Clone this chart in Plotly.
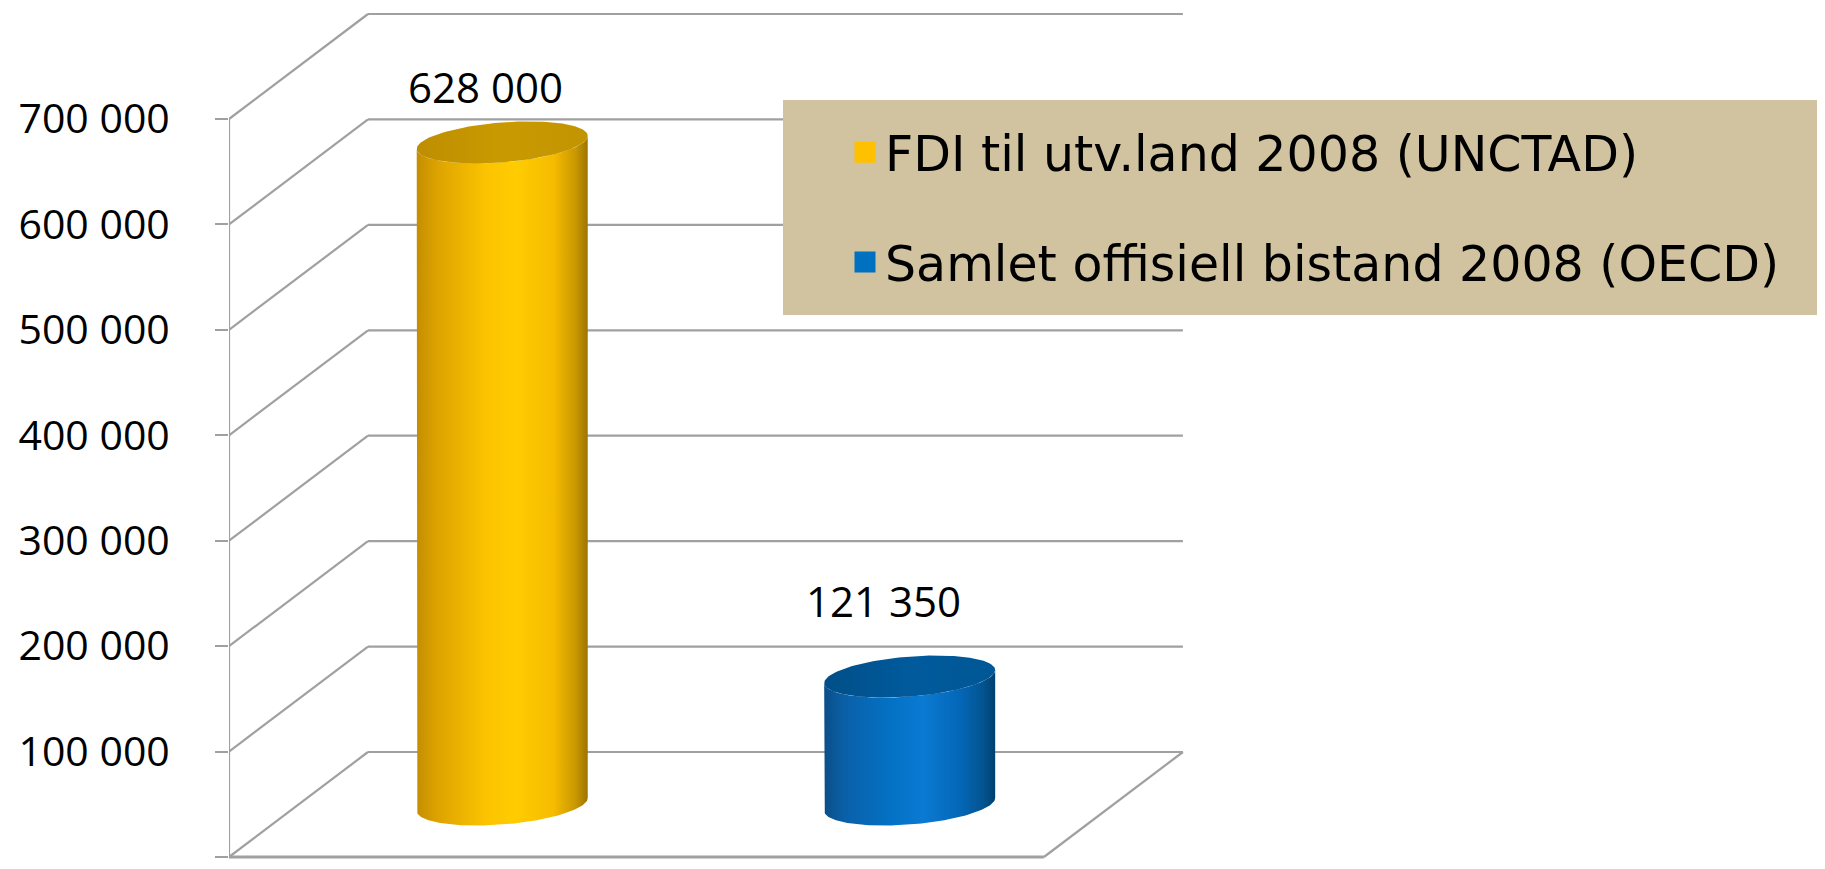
import numpy as np
import plotly.graph_objects as go

# ---------------- data ----------------
categories = ["FDI til utv.land 2008 (UNCTAD)", "Samlet offisiell bistand 2008 (OECD)"]
values = [628000, 121350]
value_labels = ["628 000", "121 350"]
tick_values = [0, 100000, 200000, 300000, 400000, 500000, 600000, 700000]
tick_labels = ["-\u00a0", "100 000", "200 000", "300 000", "400 000", "500 000", "600 000", "700 000"]

# ---------------- style ----------------
body_scales = [
    [[0, "#C48E00"], [0.12, "#DDA300"], [0.4, "#FBC300"], [0.58, "#FFCC00"],
     [0.8, "#F5BC00"], [0.93, "#C99700"], [1, "#9C7400"]],
    [[0, "#0B4E88"], [0.12, "#0A60A8"], [0.4, "#0372C6"], [0.58, "#0A7AD2"],
     [0.8, "#0466B6"], [0.93, "#03548F"], [1, "#003F70"]],
]
top_scales = [
    [[0, "#BE8E00"], [0.5, "#C99A00"], [1, "#C29400"]],
    [[0, "#004F88"], [0.5, "#005A9C"], [1, "#005795"]],
]
legend_colors = ["#FFC000", "#0070C0"]
grid_color = "#A0A0A0"
label_xshift = [0, -10]
label_yshift = [3, 24]

OFF = 8                      # default page margin of the html body
W, H = 1825 - OFF, 869 - OFF
ML = 229 - OFF
XR = [-0.5, 3.417]           # category units
YR = [-11382, 805285]        # value units
PX_X = (W - ML) / (XR[1] - XR[0])   # px per category unit
PX_Y = H / (YR[1] - YR[0])          # px per value unit

DEPTH_DX = 139 / PX_X
DEPTH_DY = 105 / PX_Y
A = 85.5 / PX_X       # cylinder half width
B = 20 / PX_Y         # ellipse half height
SH = 6.5 / PX_Y       # ellipse tilt

fig = go.Figure()

# ---------------- walls / floor / gridlines ----------------
shapes = []
line = dict(color=grid_color, width=2.2)
x_left, x_right = -0.5, -0.5 + len(categories)
for v in tick_values:
    shapes.append(dict(type="line", xref="x", yref="y", x0=x_left, y0=v,
                       x1=x_left + DEPTH_DX, y1=v + DEPTH_DY, line=line, layer="below"))
    shapes.append(dict(type="line", xref="x", yref="y", x0=x_left + DEPTH_DX, y0=v + DEPTH_DY,
                       x1=x_right + DEPTH_DX, y1=v + DEPTH_DY, line=line, layer="below"))
# front axis line
shapes.append(dict(type="line", xref="x", yref="y", x0=x_left, y0=tick_values[0],
                   x1=x_left, y1=tick_values[-1], line=line, layer="below"))
# floor front edge and right edge
shapes.append(dict(type="line", xref="x", yref="y", x0=x_left, y0=0, x1=x_right, y1=0,
                   line=dict(color=grid_color, width=2.8), layer="below"))
shapes.append(dict(type="line", xref="x", yref="y", x0=x_right, y0=0,
                   x1=x_right + DEPTH_DX, y1=DEPTH_DY, line=line, layer="below"))
# legend box
shapes.append(dict(type="rect", xref="paper", yref="paper",
                   x0=(783 - OFF - ML) / (W - ML), x1=1.0,
                   y0=1 - (315 - OFF) / H, y1=1 - (100 - OFF) / H,
                   fillcolor="#D1C3A0", line=dict(width=0), layer="above"))

# ---------------- cylinders ----------------
def ellipse(cx, cy, t):
    return cx + A * np.cos(t), cy + B * np.sin(t) + SH * np.cos(t)

for i, v in enumerate(values):
    cx = i + DEPTH_DX / 2
    base = DEPTH_DY / 2
    top = base + v
    t_front = np.linspace(np.pi, 2 * np.pi, 80)
    bx, by = ellipse(cx, base, t_front)
    tx, ty = ellipse(cx, top, t_front[::-1])
    xs = np.concatenate([[cx - A], bx, tx, [cx - A]])
    ys = np.concatenate([[top - SH], by, ty, [top - SH]])
    fig.add_trace(go.Scatter(
        x=xs, y=ys, mode="lines", fill="toself", line=dict(width=0),
        fillcolor=body_scales[i][3][1],
        fillgradient=dict(type="horizontal", colorscale=body_scales[i]),
        hoverinfo="skip", showlegend=False))
    t_all = np.linspace(0, 2 * np.pi, 160)
    ex, ey = ellipse(cx, top, t_all)
    fig.add_trace(go.Scatter(
        x=ex, y=ey, mode="lines", fill="toself", line=dict(width=0),
        fillcolor=top_scales[i][1][1],
        fillgradient=dict(type="horizontal", colorscale=top_scales[i]),
        hoverinfo="skip", showlegend=False))

# legend entries
for i, name in enumerate(categories):
    fig.add_trace(go.Scatter(
        x=[None], y=[None], mode="markers", name=name, legendgroup=f"g{i}",
        marker=dict(symbol="square", size=16, color=legend_colors[i],
                    line=dict(width=5, color=legend_colors[i]))))

# value labels
annotations = []
for i, (v, lab) in enumerate(zip(values, value_labels)):
    annotations.append(dict(x=i + DEPTH_DX * 0.38, y=v + DEPTH_DY, xref="x", yref="y",
                            text=lab, showarrow=False,
                            xshift=label_xshift[i], yshift=label_yshift[i],
                            font=dict(family="Open Sans", size=42, color="black")))

fig.update_layout(
    width=W, height=H,
    margin=dict(l=ML, r=0, t=0, b=0, autoexpand=False),
    paper_bgcolor="white", plot_bgcolor="white",
    shapes=shapes, annotations=annotations,
    xaxis=dict(range=XR, visible=False, fixedrange=True),
    yaxis=dict(range=YR, tickvals=tick_values, ticktext=tick_labels,
               ticks="outside", ticklen=13, tickwidth=2.2, tickcolor=grid_color,
               ticklabelstandoff=37, showgrid=False, zeroline=False, showline=False,
               tickfont=dict(family="Open Sans", size=41, color="black"),
               automargin=False, fixedrange=True),
    showlegend=True,
    legend=dict(x=(845 - OFF - ML) / (W - ML), y=1 - (114 - OFF) / H,
                xanchor="left", yanchor="top",
                bgcolor="rgba(0,0,0,0)", tracegroupgap=43,
                font=dict(family="DejaVu Sans", size=49, color="black")),
)

fig.write_html("out.html")
